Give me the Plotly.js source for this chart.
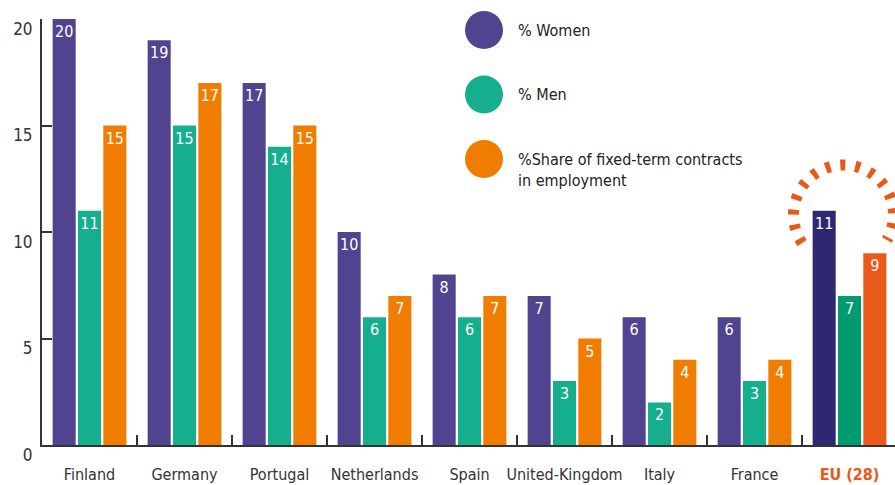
<!DOCTYPE html>
<html>
<head>
<meta charset="utf-8">
<script src="https://cdn.plot.ly/plotly-3.0.1.min.js"></script>
<style>html,body{margin:0;padding:0;background:#fff;}#chart{width:895px;height:485px;}
#chart text{font-stretch:condensed;}</style>
</head>
<body>
<div id="chart"></div>
<script>
const categories = ['Finland','Germany','Portugal','Netherlands','Spain','United-Kingdom','Italy','France','EU (28)'];
const women = [20,19,17,10,8,7,6,6,11];
const men = [11,15,14,6,6,3,2,3,7];
const fixedTerm = [15,17,15,7,7,5,4,4,9];
const seriesNames = ['% Women','% Men','%Share of fixed-term contracts<br>in employment'];
const yTicks = [0,5,10,15,20];

const FONT = '"DejaVu Sans Condensed","Liberation Sans Narrow","DejaVu Sans",sans-serif';
const baseCols = ['#51438F','#15AF8D','#F07D00'];
const euCols = ['#2F2770','#009A70','#E8591A'];
const n = categories.length;
function cols(i){ return categories.map((c,k)=> k===n-1 ? euCols[i] : baseCols[i]); }

const series = [women, men, fixedTerm];
const traces = series.map((vals,i)=>({
  type:'bar', x:categories, y:vals, name:seriesNames[i],
  marker:{color:cols(i)},
  text:vals.map(String), textposition:'inside', insidetextanchor:'end',
  constraintext:'none',
  textfont:{family:FONT, size:16, color:'#ffffff', weight:300},
  showlegend:false, hoverinfo:'x+y'
}));

const ticktext = categories.map((c,k)=> k===n-1 ? '<b><span style="color:#E8591A">'+c+'</span></b>' : c);

// plot area geometry (pixels)
const L=42, T=19, W=853, H=426;
function px(x){ return (x-L)/W; }
function py(y){ return (T+H-y)/H; }

const shapes = [];
const annotations = [];
const legendY = [30, 94.5, 159];
const legendTextY = [30, 94, 170];
seriesNames.forEach((nm,i)=>{
  const r=19, cx=484, cy=legendY[i];
  shapes.push({type:'circle', xref:'paper', yref:'paper',
    x0:px(cx-r), x1:px(cx+r), y0:py(cy+r), y1:py(cy-r),
    fillcolor:baseCols[i], line:{width:0}});
  annotations.push({xref:'paper', yref:'paper', x:px(516), y:py(legendTextY[i]),
    xanchor:'left', yanchor:'middle', align:'left', showarrow:false, text:nm,
    font:{family:FONT, size:16, color:'#222'}});
});

// dashed highlight arc around EU group (pixel offsets from anchor)
let arc='';
const acx=-6, ar=50;
for(let a=214; a>=-30; a-=2){
  const rad=a*Math.PI/180;
  const x=(acx+ar*Math.cos(rad)).toFixed(2), y=(ar*Math.sin(rad)).toFixed(2);
  arc += (arc===''?'M':' L') + x + ',' + y;
}
shapes.push({type:'path', xref:'x', yref:'y', xsizemode:'pixel', ysizemode:'pixel',
  xanchor:'EU (28)', yanchor:10.8, path:arc,
  line:{color:'#E8591A', width:11, dash:'5px,10px'}, layer:'above'});

const layout = {
  width:895, height:485,
  margin:{l:L, r:0, t:T, b:40},
  paper_bgcolor:'#fff', plot_bgcolor:'#fff',
  barmode:'group', bargap:0.2, bargroupgap:0.09,
  font:{family:FONT, size:16, color:'#333'},
  xaxis:{type:'category', range:[-0.5, -0.5+W/95], tickmode:'array', tickvals:categories, ticktext:ticktext,
    tickson:'boundaries', ticks:'inside', ticklen:10, tickwidth:2, tickcolor:'#333', tickangle:0,
    showline:true, linecolor:'#333', linewidth:2, showgrid:false, zeroline:false,
    ticklabelstandoff:14, tickfont:{family:FONT, size:16, color:'#333'}},
  yaxis:{range:[0,20], tickmode:'array', tickvals:yTicks, ticks:'inside', ticklen:10, tickwidth:2, tickcolor:'#333',
    showline:true, linecolor:'#333', linewidth:2, showgrid:false, zeroline:false,
    ticklabelstandoff:4, ticklabelshift:10,
    tickfont:{family:FONT, size:17, color:'#333'}},
  shapes:shapes, annotations:annotations, showlegend:false
};

Plotly.newPlot('chart', traces, layout, {displayModeBar:false, staticPlot:true});
</script>
</body>
</html>
